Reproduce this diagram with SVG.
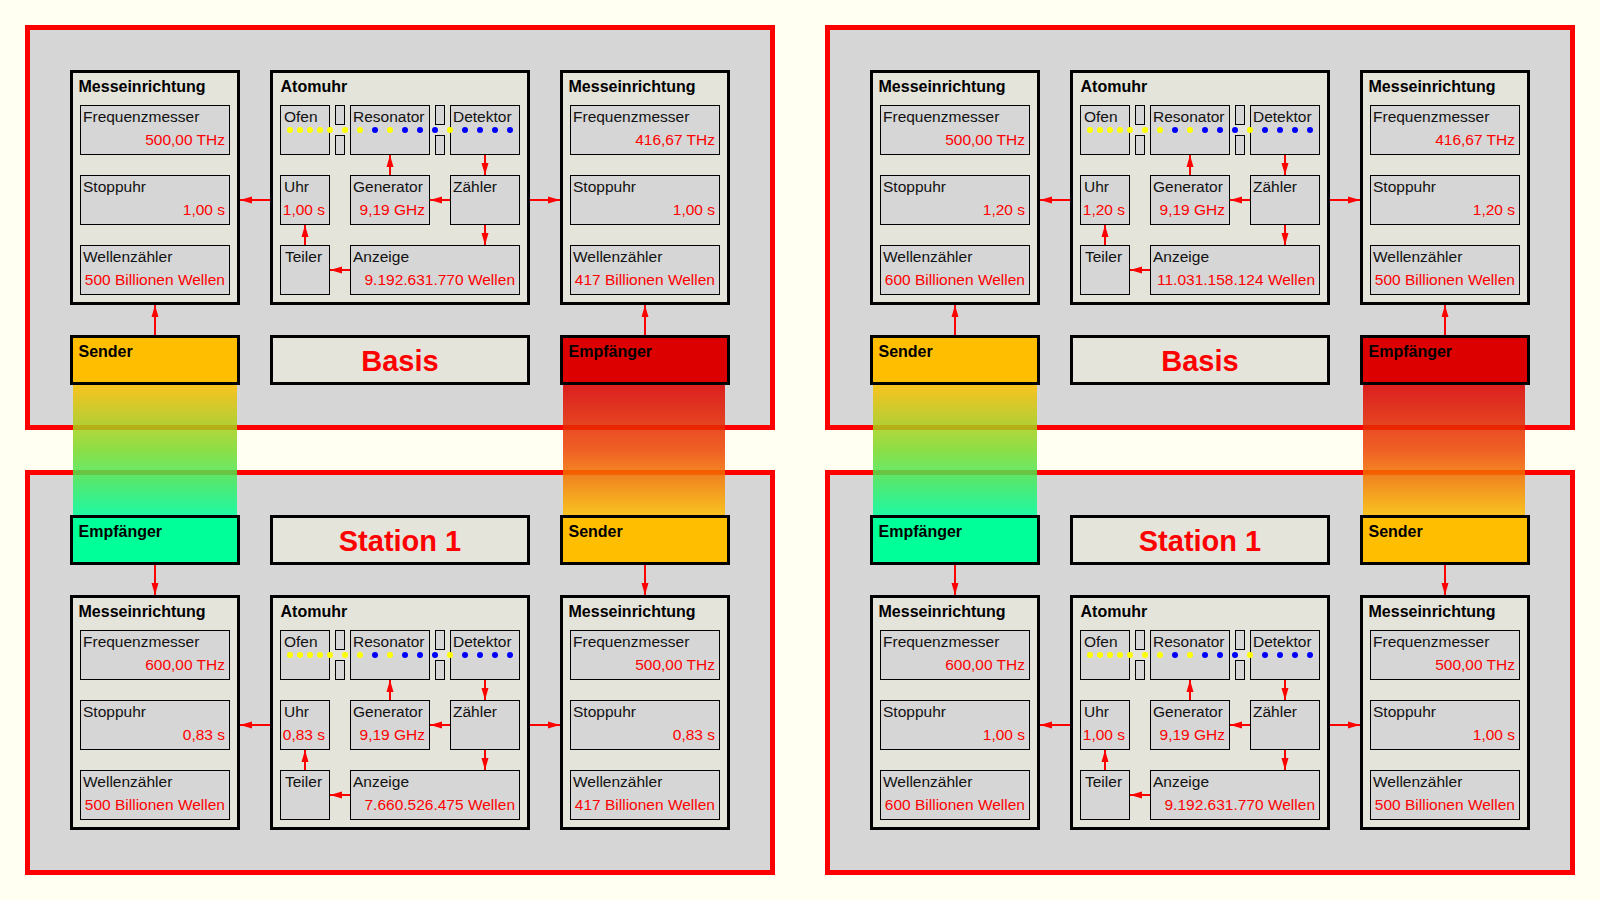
<svg xmlns="http://www.w3.org/2000/svg" width="1600" height="900" viewBox="0 0 1600 900">
<style>
.bg{fill:#fffff2}
.panel{fill:#d6d6d6;stroke:#ff0000;stroke-width:5}
.box{fill:#e4e4da;stroke:#000;stroke-width:3}
.fsend{fill:#ffbf00}
.frecv{fill:#dd0000}
.fgreen{fill:#00ff99}
.sub{fill:#d6d6d6;stroke:#000;stroke-width:1}
.title{font-family:"Liberation Sans",Arial,sans-serif;font-weight:bold;font-size:16px;fill:#000}
.lbl{font-family:"Liberation Sans",Arial,sans-serif;font-size:15.5px;fill:#111}
.val{font-family:"Liberation Sans",Arial,sans-serif;font-size:15.5px;fill:#ff0000;text-anchor:end}
.big{font-family:"Liberation Sans",Arial,sans-serif;font-weight:bold;font-size:29px;fill:#ff0000;text-anchor:middle}
.dy{fill:#ffff00}
.db{fill:#0000ff}
.wire{fill:none;stroke:#ff0000;stroke-width:2;marker-end:url(#ah)}
.band{fill-opacity:0.85}
</style>
<defs>
<marker id="ah" viewBox="0 0 12 8" refX="12" refY="4" markerWidth="12" markerHeight="8" markerUnits="userSpaceOnUse" orient="auto">
<path d="M0,0.5 L12,4 L0,7.5 z" fill="#ff0000"/>
</marker>
<linearGradient id="gGreen" x1="0" y1="0" x2="0" y2="1">
<stop offset="0" stop-color="#ffbf00"/>
<stop offset="0.5" stop-color="#78d828"/>
<stop offset="1" stop-color="#00ff99"/>
</linearGradient>
<linearGradient id="gRed" x1="0" y1="0" x2="0" y2="1">
<stop offset="0" stop-color="#dd0000"/>
<stop offset="0.5" stop-color="#ec4400"/>
<stop offset="1" stop-color="#ffbf00"/>
</linearGradient>
<g id="dots">
<circle class="dy" cx="20" cy="60" r="3"/><circle class="dy" cx="30" cy="60" r="3"/><circle class="dy" cx="40" cy="60" r="3"/><circle class="dy" cx="50" cy="60" r="3"/><circle class="dy" cx="60" cy="60" r="3"/><circle class="dy" cx="75" cy="60" r="3"/><circle class="dy" cx="90" cy="60" r="3"/><circle class="db" cx="105" cy="60" r="3"/><circle class="dy" cx="120" cy="60" r="3"/><circle class="db" cx="135" cy="60" r="3"/><circle class="db" cx="150" cy="60" r="3"/><circle class="db" cx="165" cy="60" r="3"/><circle class="dy" cx="180" cy="60" r="3"/><circle class="db" cx="195" cy="60" r="3"/><circle class="db" cx="210" cy="60" r="3"/><circle class="db" cx="225" cy="60" r="3"/><circle class="db" cx="240" cy="60" r="3"/>
</g>
</defs>
<rect class="bg" x="0" y="0" width="1600" height="900"/>

<g id="panels">
<rect id="panel-basis-1" class="panel" x="27.5" y="27.5" width="745" height="400"/>
<rect id="panel-station-1" class="panel" x="27.5" y="472.5" width="745" height="400"/>
<rect id="panel-basis-2" class="panel" x="827.5" y="27.5" width="745" height="400"/>
<rect id="panel-station-2" class="panel" x="827.5" y="472.5" width="745" height="400"/>
</g>

<g id="signals">
<rect class="band" x="73" y="385" width="164" height="130" fill="url(#gGreen)"/>
<rect class="band" x="563" y="385" width="162" height="130" fill="url(#gRed)"/>
<rect class="band" x="873" y="385" width="164" height="130" fill="url(#gGreen)"/>
<rect class="band" x="1363" y="385" width="162" height="130" fill="url(#gRed)"/>
</g>

<!-- ===== Quadrant A: Basis (left) ===== -->
<g id="a-mess-left" transform="translate(70,70)">
<rect class="box" x="1.5" y="1.5" width="167" height="232"/>
<text class="title" x="8.5" y="22">Messeinrichtung</text>
<rect class="sub" x="10.5" y="35.5" width="149" height="49"/>
<text class="lbl" x="13" y="52">Frequenzmesser</text>
<text class="val" x="155" y="75">500,00 THz</text>
<rect class="sub" x="10.5" y="105.5" width="149" height="49"/>
<text class="lbl" x="13" y="122">Stoppuhr</text>
<text class="val" x="155" y="145">1,00 s</text>
<rect class="sub" x="10.5" y="175.5" width="149" height="49"/>
<text class="lbl" x="13" y="192">Wellenzähler</text>
<text class="val" x="155" y="215">500 Billionen Wellen</text>
</g>
<g id="a-atomuhr" transform="translate(270,70)">
<rect class="box" x="1.5" y="1.5" width="257" height="232"/>
<text class="title" x="10.5" y="22">Atomuhr</text>
<rect class="sub" x="10.5" y="35.5" width="49" height="49"/><text class="lbl" x="14" y="52">Ofen</text>
<rect class="sub" x="65.5" y="35.5" width="9" height="19"/><rect class="sub" x="65.5" y="65.5" width="9" height="19"/>
<rect class="sub" x="80.5" y="35.5" width="79" height="49"/><text class="lbl" x="83" y="52">Resonator</text>
<rect class="sub" x="165.5" y="35.5" width="9" height="19"/><rect class="sub" x="165.5" y="65.5" width="9" height="19"/>
<rect class="sub" x="180.5" y="35.5" width="69" height="49"/><text class="lbl" x="183" y="52">Detektor</text>
<rect class="sub" x="10.5" y="105.5" width="49" height="49"/><text class="lbl" x="14" y="122">Uhr</text><text class="val" x="55" y="145">1,00 s</text>
<rect class="sub" x="80.5" y="105.5" width="79" height="49"/><text class="lbl" x="83" y="122">Generator</text><text class="val" x="155" y="145">9,19 GHz</text>
<rect class="sub" x="180.5" y="105.5" width="69" height="49"/><text class="lbl" x="183" y="122">Zähler</text>
<rect class="sub" x="10.5" y="175.5" width="49" height="49"/><text class="lbl" x="15" y="192">Teiler</text>
<rect class="sub" x="80.5" y="175.5" width="169" height="49"/><text class="lbl" x="83" y="192">Anzeige</text><text class="val" x="245" y="215">9.192.631.770 Wellen</text>
<use href="#dots"/>
</g>
<g id="a-mess-right" transform="translate(560,70)">
<rect class="box" x="1.5" y="1.5" width="167" height="232"/>
<text class="title" x="8.5" y="22">Messeinrichtung</text>
<rect class="sub" x="10.5" y="35.5" width="149" height="49"/>
<text class="lbl" x="13" y="52">Frequenzmesser</text>
<text class="val" x="155" y="75">416,67 THz</text>
<rect class="sub" x="10.5" y="105.5" width="149" height="49"/>
<text class="lbl" x="13" y="122">Stoppuhr</text>
<text class="val" x="155" y="145">1,00 s</text>
<rect class="sub" x="10.5" y="175.5" width="149" height="49"/>
<text class="lbl" x="13" y="192">Wellenzähler</text>
<text class="val" x="155" y="215">417 Billionen Wellen</text>
</g>
<g id="a-sender" transform="translate(70,335)">
<rect class="box fsend" x="1.5" y="1.5" width="167" height="47"/>
<text class="title" x="8.5" y="22">Sender</text>
</g>
<g id="a-basis" transform="translate(270,335)">
<rect class="box" x="1.5" y="1.5" width="257" height="47"/>
<text class="big" x="130" y="36">Basis</text>
</g>
<g id="a-empfaenger" transform="translate(560,335)">
<rect class="box frecv" x="1.5" y="1.5" width="167" height="47"/>
<text class="title" x="8.5" y="22">Empfänger</text>
</g>

<!-- ===== Quadrant B: Station 1 (left) ===== -->
<g id="b-mess-left" transform="translate(70,595)">
<rect class="box" x="1.5" y="1.5" width="167" height="232"/>
<text class="title" x="8.5" y="22">Messeinrichtung</text>
<rect class="sub" x="10.5" y="35.5" width="149" height="49"/>
<text class="lbl" x="13" y="52">Frequenzmesser</text>
<text class="val" x="155" y="75">600,00 THz</text>
<rect class="sub" x="10.5" y="105.5" width="149" height="49"/>
<text class="lbl" x="13" y="122">Stoppuhr</text>
<text class="val" x="155" y="145">0,83 s</text>
<rect class="sub" x="10.5" y="175.5" width="149" height="49"/>
<text class="lbl" x="13" y="192">Wellenzähler</text>
<text class="val" x="155" y="215">500 Billionen Wellen</text>
</g>
<g id="b-atomuhr" transform="translate(270,595)">
<rect class="box" x="1.5" y="1.5" width="257" height="232"/>
<text class="title" x="10.5" y="22">Atomuhr</text>
<rect class="sub" x="10.5" y="35.5" width="49" height="49"/><text class="lbl" x="14" y="52">Ofen</text>
<rect class="sub" x="65.5" y="35.5" width="9" height="19"/><rect class="sub" x="65.5" y="65.5" width="9" height="19"/>
<rect class="sub" x="80.5" y="35.5" width="79" height="49"/><text class="lbl" x="83" y="52">Resonator</text>
<rect class="sub" x="165.5" y="35.5" width="9" height="19"/><rect class="sub" x="165.5" y="65.5" width="9" height="19"/>
<rect class="sub" x="180.5" y="35.5" width="69" height="49"/><text class="lbl" x="183" y="52">Detektor</text>
<rect class="sub" x="10.5" y="105.5" width="49" height="49"/><text class="lbl" x="14" y="122">Uhr</text><text class="val" x="55" y="145">0,83 s</text>
<rect class="sub" x="80.5" y="105.5" width="79" height="49"/><text class="lbl" x="83" y="122">Generator</text><text class="val" x="155" y="145">9,19 GHz</text>
<rect class="sub" x="180.5" y="105.5" width="69" height="49"/><text class="lbl" x="183" y="122">Zähler</text>
<rect class="sub" x="10.5" y="175.5" width="49" height="49"/><text class="lbl" x="15" y="192">Teiler</text>
<rect class="sub" x="80.5" y="175.5" width="169" height="49"/><text class="lbl" x="83" y="192">Anzeige</text><text class="val" x="245" y="215">7.660.526.475 Wellen</text>
<use href="#dots"/>
</g>
<g id="b-mess-right" transform="translate(560,595)">
<rect class="box" x="1.5" y="1.5" width="167" height="232"/>
<text class="title" x="8.5" y="22">Messeinrichtung</text>
<rect class="sub" x="10.5" y="35.5" width="149" height="49"/>
<text class="lbl" x="13" y="52">Frequenzmesser</text>
<text class="val" x="155" y="75">500,00 THz</text>
<rect class="sub" x="10.5" y="105.5" width="149" height="49"/>
<text class="lbl" x="13" y="122">Stoppuhr</text>
<text class="val" x="155" y="145">0,83 s</text>
<rect class="sub" x="10.5" y="175.5" width="149" height="49"/>
<text class="lbl" x="13" y="192">Wellenzähler</text>
<text class="val" x="155" y="215">417 Billionen Wellen</text>
</g>
<g id="b-empfaenger" transform="translate(70,515)">
<rect class="box fgreen" x="1.5" y="1.5" width="167" height="47"/>
<text class="title" x="8.5" y="22">Empfänger</text>
</g>
<g id="b-station" transform="translate(270,515)">
<rect class="box" x="1.5" y="1.5" width="257" height="47"/>
<text class="big" x="130" y="36">Station 1</text>
</g>
<g id="b-sender" transform="translate(560,515)">
<rect class="box fsend" x="1.5" y="1.5" width="167" height="47"/>
<text class="title" x="8.5" y="22">Sender</text>
</g>

<!-- ===== Quadrant C: Basis (right) ===== -->
<g id="c-mess-left" transform="translate(870,70)">
<rect class="box" x="1.5" y="1.5" width="167" height="232"/>
<text class="title" x="8.5" y="22">Messeinrichtung</text>
<rect class="sub" x="10.5" y="35.5" width="149" height="49"/>
<text class="lbl" x="13" y="52">Frequenzmesser</text>
<text class="val" x="155" y="75">500,00 THz</text>
<rect class="sub" x="10.5" y="105.5" width="149" height="49"/>
<text class="lbl" x="13" y="122">Stoppuhr</text>
<text class="val" x="155" y="145">1,20 s</text>
<rect class="sub" x="10.5" y="175.5" width="149" height="49"/>
<text class="lbl" x="13" y="192">Wellenzähler</text>
<text class="val" x="155" y="215">600 Billionen Wellen</text>
</g>
<g id="c-atomuhr" transform="translate(1070,70)">
<rect class="box" x="1.5" y="1.5" width="257" height="232"/>
<text class="title" x="10.5" y="22">Atomuhr</text>
<rect class="sub" x="10.5" y="35.5" width="49" height="49"/><text class="lbl" x="14" y="52">Ofen</text>
<rect class="sub" x="65.5" y="35.5" width="9" height="19"/><rect class="sub" x="65.5" y="65.5" width="9" height="19"/>
<rect class="sub" x="80.5" y="35.5" width="79" height="49"/><text class="lbl" x="83" y="52">Resonator</text>
<rect class="sub" x="165.5" y="35.5" width="9" height="19"/><rect class="sub" x="165.5" y="65.5" width="9" height="19"/>
<rect class="sub" x="180.5" y="35.5" width="69" height="49"/><text class="lbl" x="183" y="52">Detektor</text>
<rect class="sub" x="10.5" y="105.5" width="49" height="49"/><text class="lbl" x="14" y="122">Uhr</text><text class="val" x="55" y="145">1,20 s</text>
<rect class="sub" x="80.5" y="105.5" width="79" height="49"/><text class="lbl" x="83" y="122">Generator</text><text class="val" x="155" y="145">9,19 GHz</text>
<rect class="sub" x="180.5" y="105.5" width="69" height="49"/><text class="lbl" x="183" y="122">Zähler</text>
<rect class="sub" x="10.5" y="175.5" width="49" height="49"/><text class="lbl" x="15" y="192">Teiler</text>
<rect class="sub" x="80.5" y="175.5" width="169" height="49"/><text class="lbl" x="83" y="192">Anzeige</text><text class="val" x="245" y="215">11.031.158.124 Wellen</text>
<use href="#dots"/>
</g>
<g id="c-mess-right" transform="translate(1360,70)">
<rect class="box" x="1.5" y="1.5" width="167" height="232"/>
<text class="title" x="8.5" y="22">Messeinrichtung</text>
<rect class="sub" x="10.5" y="35.5" width="149" height="49"/>
<text class="lbl" x="13" y="52">Frequenzmesser</text>
<text class="val" x="155" y="75">416,67 THz</text>
<rect class="sub" x="10.5" y="105.5" width="149" height="49"/>
<text class="lbl" x="13" y="122">Stoppuhr</text>
<text class="val" x="155" y="145">1,20 s</text>
<rect class="sub" x="10.5" y="175.5" width="149" height="49"/>
<text class="lbl" x="13" y="192">Wellenzähler</text>
<text class="val" x="155" y="215">500 Billionen Wellen</text>
</g>
<g id="c-sender" transform="translate(870,335)">
<rect class="box fsend" x="1.5" y="1.5" width="167" height="47"/>
<text class="title" x="8.5" y="22">Sender</text>
</g>
<g id="c-basis" transform="translate(1070,335)">
<rect class="box" x="1.5" y="1.5" width="257" height="47"/>
<text class="big" x="130" y="36">Basis</text>
</g>
<g id="c-empfaenger" transform="translate(1360,335)">
<rect class="box frecv" x="1.5" y="1.5" width="167" height="47"/>
<text class="title" x="8.5" y="22">Empfänger</text>
</g>

<!-- ===== Quadrant D: Station 1 (right) ===== -->
<g id="d-mess-left" transform="translate(870,595)">
<rect class="box" x="1.5" y="1.5" width="167" height="232"/>
<text class="title" x="8.5" y="22">Messeinrichtung</text>
<rect class="sub" x="10.5" y="35.5" width="149" height="49"/>
<text class="lbl" x="13" y="52">Frequenzmesser</text>
<text class="val" x="155" y="75">600,00 THz</text>
<rect class="sub" x="10.5" y="105.5" width="149" height="49"/>
<text class="lbl" x="13" y="122">Stoppuhr</text>
<text class="val" x="155" y="145">1,00 s</text>
<rect class="sub" x="10.5" y="175.5" width="149" height="49"/>
<text class="lbl" x="13" y="192">Wellenzähler</text>
<text class="val" x="155" y="215">600 Billionen Wellen</text>
</g>
<g id="d-atomuhr" transform="translate(1070,595)">
<rect class="box" x="1.5" y="1.5" width="257" height="232"/>
<text class="title" x="10.5" y="22">Atomuhr</text>
<rect class="sub" x="10.5" y="35.5" width="49" height="49"/><text class="lbl" x="14" y="52">Ofen</text>
<rect class="sub" x="65.5" y="35.5" width="9" height="19"/><rect class="sub" x="65.5" y="65.5" width="9" height="19"/>
<rect class="sub" x="80.5" y="35.5" width="79" height="49"/><text class="lbl" x="83" y="52">Resonator</text>
<rect class="sub" x="165.5" y="35.5" width="9" height="19"/><rect class="sub" x="165.5" y="65.5" width="9" height="19"/>
<rect class="sub" x="180.5" y="35.5" width="69" height="49"/><text class="lbl" x="183" y="52">Detektor</text>
<rect class="sub" x="10.5" y="105.5" width="49" height="49"/><text class="lbl" x="14" y="122">Uhr</text><text class="val" x="55" y="145">1,00 s</text>
<rect class="sub" x="80.5" y="105.5" width="79" height="49"/><text class="lbl" x="83" y="122">Generator</text><text class="val" x="155" y="145">9,19 GHz</text>
<rect class="sub" x="180.5" y="105.5" width="69" height="49"/><text class="lbl" x="183" y="122">Zähler</text>
<rect class="sub" x="10.5" y="175.5" width="49" height="49"/><text class="lbl" x="15" y="192">Teiler</text>
<rect class="sub" x="80.5" y="175.5" width="169" height="49"/><text class="lbl" x="83" y="192">Anzeige</text><text class="val" x="245" y="215">9.192.631.770 Wellen</text>
<use href="#dots"/>
</g>
<g id="d-mess-right" transform="translate(1360,595)">
<rect class="box" x="1.5" y="1.5" width="167" height="232"/>
<text class="title" x="8.5" y="22">Messeinrichtung</text>
<rect class="sub" x="10.5" y="35.5" width="149" height="49"/>
<text class="lbl" x="13" y="52">Frequenzmesser</text>
<text class="val" x="155" y="75">500,00 THz</text>
<rect class="sub" x="10.5" y="105.5" width="149" height="49"/>
<text class="lbl" x="13" y="122">Stoppuhr</text>
<text class="val" x="155" y="145">1,00 s</text>
<rect class="sub" x="10.5" y="175.5" width="149" height="49"/>
<text class="lbl" x="13" y="192">Wellenzähler</text>
<text class="val" x="155" y="215">500 Billionen Wellen</text>
</g>
<g id="d-empfaenger" transform="translate(870,515)">
<rect class="box fgreen" x="1.5" y="1.5" width="167" height="47"/>
<text class="title" x="8.5" y="22">Empfänger</text>
</g>
<g id="d-station" transform="translate(1070,515)">
<rect class="box" x="1.5" y="1.5" width="257" height="47"/>
<text class="big" x="130" y="36">Station 1</text>
</g>
<g id="d-sender" transform="translate(1360,515)">
<rect class="box fsend" x="1.5" y="1.5" width="167" height="47"/>
<text class="title" x="8.5" y="22">Sender</text>
</g>

<g id="connectors">
<!-- A -->
<path class="wire" d="M390,175 V155"/>
<path class="wire" d="M485,155 V175"/>
<path class="wire" d="M450,200 H430"/>
<path class="wire" d="M485,225 V245"/>
<path class="wire" d="M350,270 H330"/>
<path class="wire" d="M305,245 V225"/>
<path class="wire" d="M270,200 H240"/>
<path class="wire" d="M530,200 H560"/>
<path class="wire" d="M155,335 V305"/>
<path class="wire" d="M645,335 V305"/>
<!-- B -->
<path class="wire" d="M390,700 V680"/>
<path class="wire" d="M485,680 V700"/>
<path class="wire" d="M450,725 H430"/>
<path class="wire" d="M485,750 V770"/>
<path class="wire" d="M350,795 H330"/>
<path class="wire" d="M305,770 V750"/>
<path class="wire" d="M270,725 H240"/>
<path class="wire" d="M530,725 H560"/>
<path class="wire" d="M155,565 V595"/>
<path class="wire" d="M645,565 V595"/>
<!-- C -->
<path class="wire" d="M1190,175 V155"/>
<path class="wire" d="M1285,155 V175"/>
<path class="wire" d="M1250,200 H1230"/>
<path class="wire" d="M1285,225 V245"/>
<path class="wire" d="M1150,270 H1130"/>
<path class="wire" d="M1105,245 V225"/>
<path class="wire" d="M1070,200 H1040"/>
<path class="wire" d="M1330,200 H1360"/>
<path class="wire" d="M955,335 V305"/>
<path class="wire" d="M1445,335 V305"/>
<!-- D -->
<path class="wire" d="M1190,700 V680"/>
<path class="wire" d="M1285,680 V700"/>
<path class="wire" d="M1250,725 H1230"/>
<path class="wire" d="M1285,750 V770"/>
<path class="wire" d="M1150,795 H1130"/>
<path class="wire" d="M1105,770 V750"/>
<path class="wire" d="M1070,725 H1040"/>
<path class="wire" d="M1330,725 H1360"/>
<path class="wire" d="M955,565 V595"/>
<path class="wire" d="M1445,565 V595"/>
</g>
</svg>
